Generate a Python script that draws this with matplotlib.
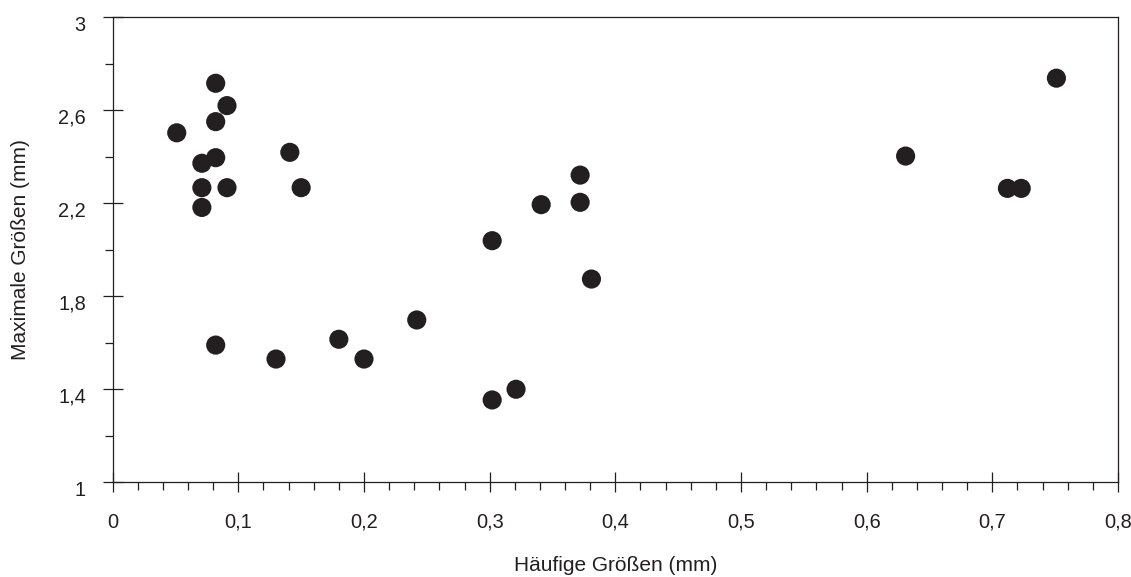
import matplotlib
matplotlib.use("Agg")
import matplotlib.pyplot as plt
from matplotlib.ticker import MultipleLocator, FixedLocator, FuncFormatter
import matplotlib.transforms as mtransforms

plt.rcParams['font.family'] = ['Liberation Sans', 'DejaVu Sans']

haeufig = [0.082, 0.091, 0.082, 0.051, 0.141, 0.082, 0.071, 0.071, 0.091, 0.150, 0.071,
           0.082, 0.130, 0.180, 0.200, 0.242,
           0.372, 0.372, 0.341, 0.302, 0.381, 0.321, 0.302,
           0.751, 0.631, 0.712, 0.723]
maximal = [2.715, 2.619, 2.550, 2.502, 2.418, 2.395, 2.371, 2.266, 2.266, 2.266, 2.181,
           1.589, 1.529, 1.614, 1.529, 1.697,
           2.320, 2.203, 2.193, 2.038, 1.873, 1.399, 1.353,
           2.737, 2.402, 2.263, 2.263]

x_major = [0, 0.1, 0.2, 0.3, 0.4, 0.5, 0.6, 0.7, 0.8]
y_major = [1, 1.4, 1.8, 2.2, 2.6, 3]
y_minor = [1.2, 1.6, 2.0, 2.4, 2.8]

xlabel = "Häufige Größen (mm)"
ylabel = "Maximale Größen (mm)"

ink = "#231f20"
fig = plt.figure(figsize=(11.31, 5.77), dpi=100)
ax = fig.add_axes([0.0996, 0.1646, 0.9885 - 0.0996, 0.9705 - 0.1646])

ax.scatter(haeufig, maximal, s=190, color=ink, edgecolors='none', zorder=3)

ax.set_xlim(0, 0.8)
ax.set_ylim(1, 3)
ax.xaxis.set_major_locator(FixedLocator(x_major))
ax.xaxis.set_minor_locator(MultipleLocator(0.02))
ax.yaxis.set_major_locator(FixedLocator(y_major))
ax.yaxis.set_minor_locator(FixedLocator(y_minor))

fmt = FuncFormatter(lambda v, p: f"{v:.10g}".replace('.', ','))
ax.xaxis.set_major_formatter(fmt)
ax.yaxis.set_major_formatter(fmt)

ax.tick_params(which='major', direction='inout', length=14.5, width=0.9, color=ink,
               labelsize=14.4, labelcolor=ink)
ax.tick_params(axis='x', which='major', pad=15)
ax.tick_params(axis='y', which='major', pad=12)
ax.tick_params(which='minor', direction='out', length=5.5, width=0.9, color=ink)

for sp in ax.spines.values():
    sp.set_linewidth(0.9)
    sp.set_color(ink)

offset = mtransforms.ScaledTranslation(0, -6 / 100, fig.dpi_scale_trans)
for lbl in ax.get_yticklabels():
    lbl.set_transform(lbl.get_transform() + offset)

ax.set_xlabel(xlabel, fontsize=15, color=ink, va='center')
ax.xaxis.set_label_coords(0.5, -(565 - 482) / 465)
ax.set_ylabel(ylabel, fontsize=15, color=ink, va='center')
ax.yaxis.set_label_coords(-(113 - 21) / 1005, 0.5)

fig.savefig("out.png", dpi=100)
